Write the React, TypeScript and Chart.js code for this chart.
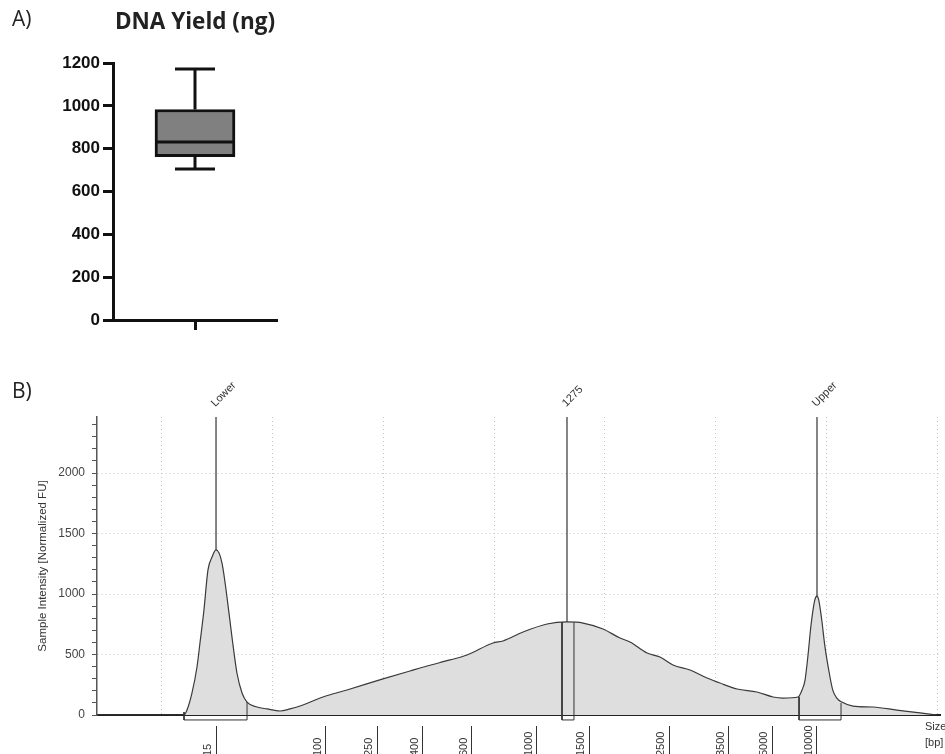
import React, { useEffect, useRef } from "react";
import { Chart, registerables } from "chart.js";
Chart.register(...registerables);
Chart.defaults.font.family = '"Liberation Sans", Arial, sans-serif';

// ---------- Panel A: DNA yield box plot ----------
const YIELD_CATEGORY = [""];
const YIELD_MIN = [705];
const YIELD_Q1 = [763];
const YIELD_MEDIAN = [831];
const YIELD_Q3 = [983];
const YIELD_MAX = [1172];
const YIELD_AXIS_MAX = 1200;
const YIELD_STEP = 200;

// ---------- Panel B: electropherogram ----------
// x = migration position (arbitrary run units), y = Sample Intensity [Normalized FU]
const TRACE_POS = [
  4.13, 11.99, 12.26, 12.71, 13.16, 13.43, 13.79, 14.15, 14.52, 14.88, 15.42, 15.87, 16.32, 16.77,
  17.23, 17.68, 18.58, 19.48, 20.66, 21.56, 22.47, 24.54, 26.71, 29.96, 32.4, 33.94, 36.01, 37.55,
  39.9, 40.8, 42.61, 44.78, 46.58, 48.03, 49.83, 51.37, 52.27, 53.81, 54.98, 56.16, 57.69, 59.23,
  60.4, 61.94, 63.74, 65.19, 66.09, 67.45, 67.81, 68.08, 68.35, 68.62, 68.96, 69.16, 69.32, 69.59,
  69.86, 70.22, 70.58, 70.95, 71.4, 72.42, 74.22, 76.39, 78.47, 80.0,
];
const TRACE_FU = [
  0, 0, 41, 182, 397, 595, 868, 1198, 1306, 1364, 1256, 975, 645, 347,
  182, 107, 66, 50, 33, 50, 74, 149, 207, 298, 364, 405, 455, 496,
  595, 612, 686, 752, 769, 760, 711, 636, 603, 512, 479, 413, 372, 306,
  264, 215, 190, 149, 140, 149, 207, 289, 496, 744, 950, 983, 950, 785,
  578, 372, 207, 140, 107, 74, 66, 41, 17, 0,
];
const LADDER_LABELS = ["15", "100", "250", "400", "600", "1000", "1500", "2500", "3500", "5000", "10000"];
const LADDER_POS = [14.88, 24.81, 29.42, 33.57, 38.0, 43.87, 48.57, 55.8, 61.21, 65.1, 69.16];
const PEAK_LABELS = ["Lower", "1275", "Upper"];
const PEAK_POS = [14.88, 46.58, 69.16];
const PEAK_FU = [1364, 769, 983];
const REGION_START = [11.99, 46.13, 67.54];
const REGION_END = [17.68, 47.21, 71.33];
const REGION_START_FU = [25, 767, 149];
const REGION_END_FU = [107, 765, 99];
const REGION_FLOOR_FU = -41;
const GRID_POS = [10, 20, 30, 40, 50, 60, 70, 80];
const Y_LABELED = [0, 500, 1000, 1500, 2000];
const Y_MINOR_STEP = 100;
const X_MIN = 4.13;
const X_MAX = 80.27;
const Y_MAX = 2463;

const boxPlugin = {
  id: "boxWhiskers",
  afterDatasetsDraw(chart: any) {
    const { ctx } = chart;
    const x = chart.scales.x;
    const y = chart.scales.y;
    const meta = chart.getDatasetMeta(0);
    ctx.save();
    ctx.strokeStyle = "#111";
    ctx.lineWidth = 3;
    YIELD_CATEGORY.forEach((_c, i) => {
      const el = meta.data[i];
      const cx = x.getPixelForValue(i);
      const half = el.width / 2;
      const cap = half / 2;
      const yMed = y.getPixelForValue(YIELD_MEDIAN[i]);
      const yQ1 = y.getPixelForValue(YIELD_Q1[i]);
      const yQ3 = y.getPixelForValue(YIELD_Q3[i]);
      const yMin = y.getPixelForValue(YIELD_MIN[i]);
      const yMax = y.getPixelForValue(YIELD_MAX[i]);
      ctx.beginPath();
      ctx.moveTo(cx - half, yMed);
      ctx.lineTo(cx + half, yMed);
      ctx.moveTo(cx, yQ3);
      ctx.lineTo(cx, yMax);
      ctx.moveTo(cx - cap, yMax);
      ctx.lineTo(cx + cap, yMax);
      ctx.moveTo(cx, yQ1);
      ctx.lineTo(cx, yMin);
      ctx.moveTo(cx - cap, yMin);
      ctx.lineTo(cx + cap, yMin);
      ctx.stroke();
    });
    ctx.fillStyle = "#222";
    ctx.font = '21px "Open Sans", sans-serif';
    ctx.textAlign = "left";
    ctx.textBaseline = "middle";
    ctx.fillText("A)", 12, 20);
    ctx.restore();
  },
};

const tapePlugin = {
  id: "tapeAnnotations",
  afterDraw(chart: any) {
    const { ctx, chartArea } = chart;
    const x = chart.scales.x;
    ctx.save();
    ctx.fillStyle = "#333";
    ctx.font = '11px "Liberation Sans", Arial, sans-serif';
    ctx.textAlign = "left";
    ctx.textBaseline = "middle";
    PEAK_LABELS.forEach((t, i) => {
      const px = x.getPixelForValue(PEAK_POS[i]);
      ctx.save();
      ctx.translate(px - 3, chartArea.top - 12);
      ctx.rotate(-Math.PI / 4);
      ctx.fillText(t, 0, 0);
      ctx.restore();
    });
    LADDER_LABELS.forEach((t, i) => {
      const px = x.getPixelForValue(LADDER_POS[i]);
      ctx.save();
      ctx.translate(px - 8, chart.height + 2);
      ctx.rotate(-Math.PI / 2);
      ctx.fillText(t, 0, 0);
      ctx.restore();
    });
    ctx.fillText("Size", chartArea.right - 15, chartArea.bottom + 12);
    ctx.fillText("[bp]", chartArea.right - 15, chartArea.bottom + 28);
    ctx.fillStyle = "#222";
    ctx.font = '21px "Open Sans", sans-serif';
    ctx.fillText("B)", 12, 52);
    ctx.restore();
  },
};

export default function App() {
  const aRef = useRef<HTMLCanvasElement>(null);
  const bRef = useRef<HTMLCanvasElement>(null);

  useEffect(() => {
    const chartA = new Chart(aRef.current as HTMLCanvasElement, {
      type: "bar",
      data: {
        labels: YIELD_CATEGORY,
        datasets: [
          {
            data: YIELD_CATEGORY.map((_c, i) => [YIELD_Q1[i], YIELD_Q3[i]]) as any,
            backgroundColor: "#808080",
            borderColor: "#111",
            borderWidth: 3,
            borderSkipped: false,
            barThickness: 80,
          },
        ],
      },
      options: {
        animation: false,
        responsive: false,
        devicePixelRatio: 1,
        layout: { padding: { left: 0, right: 23, top: 0, bottom: 0 } },
        plugins: {
          legend: { display: false },
          tooltip: { enabled: false },
          title: {
            display: true,
            text: "DNA Yield (ng)",
            fullSize: false,
            color: "#222",
            font: { family: '"Open Sans", sans-serif', size: 22.5, weight: "bold", lineHeight: 1.2 },
            padding: { top: 9, bottom: 27 },
          },
        },
        scales: {
          x: {
            type: "category",
            afterFit: (s: any) => {
              s.height = 20;
            },
            ticks: { display: false },
            grid: {
              offset: false,
              drawOnChartArea: false,
              drawTicks: true,
              tickLength: 10,
              tickWidth: 3,
              tickColor: "#111",
            },
            border: { display: true, color: "#111", width: 3 },
          },
          y: {
            type: "linear",
            min: 0,
            max: YIELD_AXIS_MAX,
            afterFit: (s: any) => {
              s.width = 113;
            },
            ticks: {
              stepSize: YIELD_STEP,
              color: "#111",
              padding: 3,
              font: { size: 17, weight: "bold" },
              callback: (v: any) => String(v),
            },
            grid: {
              drawOnChartArea: false,
              drawTicks: true,
              tickLength: 10,
              tickWidth: 3,
              tickColor: "#111",
            },
            border: { display: true, color: "#111", width: 3 },
          },
        },
      } as any,
      plugins: [boxPlugin],
    });

    const traceData = TRACE_POS.map((p, i) => ({ x: p, y: TRACE_FU[i] }));
    const regionSets = REGION_START.map((s, i) => ({
      data: [
        { x: s, y: REGION_START_FU[i] },
        { x: s, y: REGION_FLOOR_FU },
        { x: REGION_END[i], y: REGION_FLOOR_FU },
        { x: REGION_END[i], y: REGION_END_FU[i] },
      ],
      borderColor: "#333",
      borderWidth: 1,
      pointRadius: 0,
      fill: false,
      clip: false,
      order: 1,
    }));
    const peakSets = PEAK_POS.map((p, i) => ({
      data: [
        { x: p, y: PEAK_FU[i] },
        { x: p, y: Y_MAX },
      ],
      borderColor: "#333",
      borderWidth: 1.2,
      pointRadius: 0,
      fill: false,
      order: 1,
    }));

    const chartB = new Chart(bRef.current as HTMLCanvasElement, {
      type: "line",
      data: {
        datasets: [
          ...regionSets,
          ...peakSets,
          {
            data: traceData,
            borderColor: "#3a3a3a",
            borderWidth: 1.2,
            backgroundColor: "#dedede",
            fill: "origin",
            pointRadius: 0,
            cubicInterpolationMode: "monotone",
            order: 2,
          },
        ] as any,
      },
      options: {
        animation: false,
        responsive: false,
        devicePixelRatio: 1,
        layout: { padding: { left: 0, right: 5, top: 77, bottom: 0 } },
        plugins: { legend: { display: false }, tooltip: { enabled: false } },
        scales: {
          x: {
            type: "linear",
            position: "bottom",
            min: X_MIN,
            max: X_MAX,
            afterBuildTicks: (s: any) => {
              s.ticks = LADDER_POS.map((v) => ({ value: v }));
            },
            afterFit: (s: any) => {
              s.height = 39;
            },
            ticks: { display: false },
            grid: {
              drawOnChartArea: false,
              drawTicks: true,
              tickLength: 39,
              tickColor: "#333",
              tickWidth: 1,
              tickBorderDash: [0, 10, 100],
            },
            border: { display: true, color: "#222", width: 2 },
          },
          xg: {
            type: "linear",
            axis: "x",
            position: "top",
            min: X_MIN,
            max: X_MAX,
            afterBuildTicks: (s: any) => {
              s.ticks = GRID_POS.map((v) => ({ value: v }));
            },
            ticks: { display: false },
            grid: { drawTicks: false, color: "#c4c4c4", lineWidth: 1 },
            border: { display: false, dash: [1, 3] },
          },
          y: {
            type: "linear",
            min: 0,
            max: Y_MAX,
            afterBuildTicks: (s: any) => {
              const t: any[] = [];
              for (let v = 0; v <= Y_MAX; v += Y_MINOR_STEP) t.push({ value: v });
              s.ticks = t;
            },
            afterFit: (s: any) => {
              s.width = 97;
            },
            ticks: {
              autoSkip: false,
              color: "#444",
              padding: 7,
              font: { size: 12 },
              callback: (v: any) => (Y_LABELED.includes(v) ? String(v) : ""),
            },
            grid: {
              color: (c: any) =>
                c.tick && c.tick.value !== 0 && Y_LABELED.includes(c.tick.value) ? "#c4c4c4" : "rgba(0,0,0,0)",
              tickColor: "#555",
              tickLength: 5,
              drawTicks: true,
            },
            border: { display: true, color: "#555", width: 1.5, dash: [1, 3] },
            title: {
              display: true,
              text: "Sample Intensity [Normalized FU]",
              color: "#333",
              font: { size: 11.5 },
              padding: { top: 36, bottom: 0 },
            },
          },
        },
      } as any,
      plugins: [tapePlugin],
    });

    return () => {
      chartA.destroy();
      chartB.destroy();
    };
  }, []);

  return (
    <div
      style={{
        position: "fixed",
        left: 0,
        top: 0,
        width: 945,
        height: 754,
        overflow: "hidden",
        background: "#fff",
      }}
    >
      <canvas
        ref={aRef}
        width={300}
        height={340}
        style={{ position: "absolute", left: 0, top: 0, width: 300, height: 340 }}
      />
      <canvas
        ref={bRef}
        width={945}
        height={414}
        style={{ position: "absolute", left: 0, top: 340, width: 945, height: 414 }}
      />
    </div>
  );
}
